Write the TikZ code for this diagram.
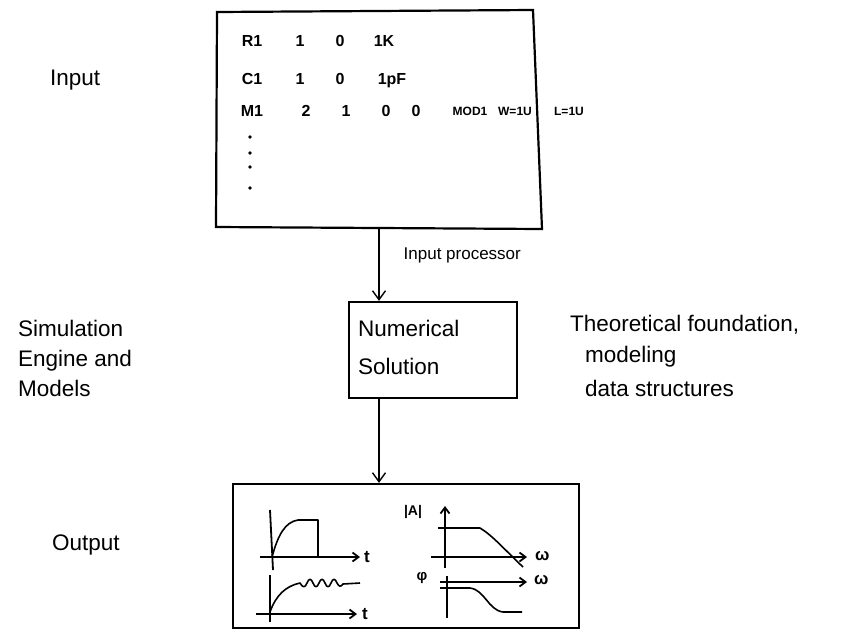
\documentclass[tikz,border=0pt]{standalone}
\usepackage{fontspec}
\setmainfont{Liberation Sans}
\usetikzlibrary{arrows.meta}
\begin{document}
\begin{tikzpicture}[x=1pt,y=-1pt,
  frame/.style={draw,line width=2.2pt},
  flow/.style={line width=1.4pt,-{Straight Barb[length=9pt,width=13pt,line width=1.4pt]}},
  axis/.style={line width=1.8pt,-{Straight Barb[length=6pt,width=9pt,line width=1.8pt]}},
  bare/.style={line width=1.8pt},
  curve/.style={line width=1.6pt,line join=round},
  lbl/.style={font=\fontsize{22.5}{26}\selectfont,inner sep=0pt},
  net/.style={font=\fontsize{16}{18}\selectfont\bfseries,inner sep=0pt,anchor=base},
  tiny/.style={font=\fontsize{12}{14}\selectfont\bfseries,inner sep=0pt,anchor=base},
  small/.style={font=\fontsize{17}{20}\selectfont,inner sep=0pt}]
\useasboundingbox (0,0) rectangle (846,638);

% input deck box
\draw[frame] (217,12) -- (533,10) -- (542,229) -- (216,227) -- cycle;
\coordinate (inbot) at (379,228);

% netlist lines (baselines at 46, 84, 116)
\node[net] (r1) at (252,46) {R1};
\node[net] (r1a) at (300,46) {1};
\node[net] (r1b) at (340,46) {0};
\node[net] (r1c) at (384,46) {1K};
\node[net] (c1) at (252,84) {C1};
\node[net] (c1a) at (300,84) {1};
\node[net] (c1b) at (340,84) {0};
\node[net] (c1c) at (392,84) {1pF};
\node[net] (m1) at (252,116) {M1};
\node[net] (m1a) at (306,116) {2};
\node[net] (m1b) at (346,116) {1};
\node[net] (m1c) at (386,116) {0};
\node[net] (m1d) at (416,116) {0};
\node[tiny] (m1e) at (470,115) {MOD1};
\node[tiny] (m1f) at (515,115) {W=1U};
\node[tiny] (m1g) at (569,115) {L=1U};
\foreach \yy/\nm in {137/d1,153/d2,167/d3,188/d4}
  \fill (250,\yy) circle (1.8pt) coordinate (\nm);

% left labels
\node[lbl,anchor=west] (inlbl) at (50,80) {Input};
\node[lbl,anchor=west,align=left] (sim) at (18,358) {Simulation\\[4pt]Engine and\\[4pt]Models};
\node[lbl,anchor=west] (outlbl) at (52,545) {Output};

% right labels
\node[lbl,anchor=west] (th1) at (570,325) {Theoretical foundation,};
\node[lbl,anchor=west] (th2) at (585,357) {modeling};
\node[lbl,anchor=west] (th3) at (585,388) {data structures};

% numerical solution box
\node[frame,minimum width=168pt,minimum height=96pt,inner sep=0pt] (num) at (433,350) {};
\node[lbl,anchor=west] (numt1) at (358,328) {Numerical};
\node[lbl,anchor=west] (numt2) at (358,366) {Solution};

% flow arrows
\draw[flow] (inbot) -- (num.north -| inbot) node[pos=0.38,right=24pt,small] (ip) {Input processor};
\node[frame,minimum width=346pt,minimum height=144pt,inner sep=0pt] (out) at (406,556) {};
\draw[flow] (num.south -| inbot) -- (out.north -| inbot);

% step response
\draw[bare] (270,510) -- (273,570);
\draw[axis] (260,557) -- (360,557) coordinate (t1);
\node[small,anchor=west,font=\fontsize{17}{20}\selectfont\bfseries] (t1l) at (364,557) {t};
\draw[curve] (272,557) .. controls (278,535) and (285,522) .. (298,520) -- (318,520) -- (318,557);

% ringing response
\draw[bare] (270,575) -- (270,622);
\draw[axis] (256,614) -- (357,614) coordinate (t2);
\node[small,anchor=west,font=\fontsize{17}{20}\selectfont\bfseries] (t2l) at (362,614) {t};
\draw[curve] (270,612) .. controls (276,595) and (286,586) .. (300,583)
  .. controls (303,588) and (305,588) .. (307,583)
  .. controls (309,578) and (311,578) .. (313,583)
  .. controls (315,588) and (317,588) .. (319,583)
  .. controls (321,578) and (323,578) .. (325,583)
  .. controls (327,588) and (329,588) .. (331,583)
  .. controls (333,578) and (335,578) .. (337,583)
  .. controls (339,587) and (341,587) .. (343,584) -- (360,583);

% magnitude plot
\node[inner sep=0pt,font=\fontsize{14}{16}\selectfont\bfseries] (magl) at (413,512) {|A|};
\draw[axis] (445,568) -- (445,506);
\draw[axis] (431,557) -- (527,557);
\node[small,anchor=west,font=\fontsize{17}{20}\selectfont\bfseries] (w1) at (535,556) {ω};
\draw[curve] (438,528) -- (480,528) .. controls (492,535) and (505,550) .. (523,567);

% phase plot
\node[small,font=\fontsize{15}{18}\selectfont\bfseries] (phl) at (422,578) {φ};
\draw[axis] (440,582) -- (527,582);
\node[small,anchor=west,font=\fontsize{17}{20}\selectfont\bfseries] (w2) at (534,580) {ω};
\draw[bare] (447,576) -- (447,618);
\draw[curve] (440,588) -- (470,588) .. controls (485,590) and (488,610) .. (503,612) -- (522,612);
\end{tikzpicture}
\end{document}
